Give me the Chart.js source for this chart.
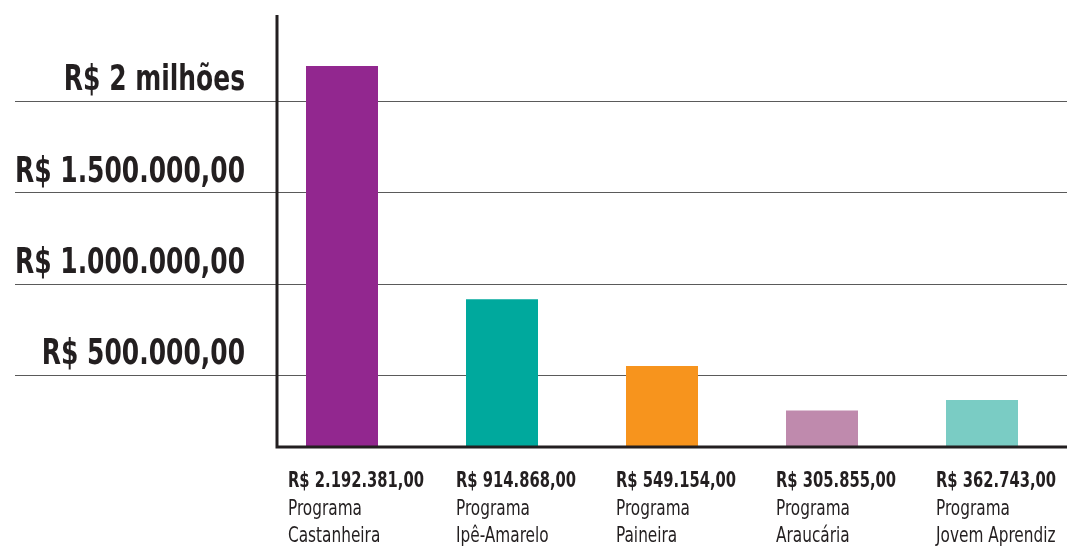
<!DOCTYPE html>
<html>
<head>
<meta charset="utf-8">
<script src="https://cdn.jsdelivr.net/npm/chart.js@4"></script>
<style>
  html, body { margin: 0; padding: 0; background: #fff; }
  canvas { display: block; }
</style>
</head>
<body>
<canvas id="myChart" width="1067" height="546"></canvas>
<script>
// data
const programs = ["Castanheira", "Ipê-Amarelo", "Paineira", "Araucária", "Jovem Aprendiz"];
const amounts = [2192381, 914868, 549154, 305855, 362743];
const amountLabels = ["R$ 2.192.381,00", "R$ 914.868,00", "R$ 549.154,00", "R$ 305.855,00", "R$ 362.743,00"];
const barColours = ["#92278f", "#00a99d", "#f7941d", "#bf8aad", "#7accc4"];
const tickValues = [500000, 1000000, 1500000, 2000000];
const tickLabels = ["R$ 500.000,00", "R$ 1.000.000,00", "R$ 1.500.000,00", "R$ 2 milhões"];

const ink = "#231f20";
const narrow = "'Liberation Sans Narrow', 'DejaVu Sans Condensed', 'Roboto Condensed', 'Noto Sans', sans-serif";

// the original uses a condensed face, so squeeze text horizontally
const squeeze = (ctx, text, x, y, sx) => {
  ctx.save();
  ctx.translate(x, y);
  ctx.scale(sx, 1);
  ctx.fillText(text, 0, 0);
  ctx.restore();
};

const decor = {
  id: "decor",
  beforeDatasetsDraw(chart) {
    const ctx = chart.ctx;
    const y = chart.scales.y;
    ctx.save();
    ctx.strokeStyle = "#5a5a5a";
    ctx.lineWidth = 1;
    tickValues.forEach(v => {
      const py = Math.round(y.getPixelForValue(v)) + 0.5;
      ctx.beginPath();
      ctx.moveTo(15, py);
      ctx.lineTo(chart.width, py);
      ctx.stroke();
    });
    ctx.restore();
  },
  afterDatasetsDraw(chart) {
    const ctx = chart.ctx;
    const y = chart.scales.y;
    const x = chart.scales.x;
    const area = chart.chartArea;
    const axisX = area.left + 15;
    ctx.save();
    ctx.strokeStyle = ink;
    ctx.lineWidth = 3;
    ctx.beginPath();
    ctx.moveTo(axisX, area.top);
    ctx.lineTo(axisX, area.bottom);
    ctx.lineTo(chart.width, area.bottom);
    ctx.stroke();

    // y labels, sitting above their gridline
    ctx.fillStyle = ink;
    ctx.textAlign = "right";
    ctx.textBaseline = "middle";
    ctx.font = "bold 36px " + narrow;
    const sy = 230 / ctx.measureText("R$ 1.500.000,00").width;
    tickValues.forEach((v, i) => {
      const py = y.getPixelForValue(v) - 20;
      squeeze(ctx, tickLabels[i], 245, py, sy);
    });

    // category labels under the bars
    ctx.textAlign = "left";
    ctx.font = "bold 22px " + narrow;
    const sb = 136 / ctx.measureText("R$ 2.192.381,00").width;
    ctx.font = "21px " + narrow;
    const sr = 74 / ctx.measureText("Programa").width;
    programs.forEach((p, i) => {
      const cx = x.getPixelForValue(i) - 54 + (i > 0 ? 8 : 0);
      ctx.font = "bold 22px " + narrow;
      squeeze(ctx, amountLabels[i], cx, area.bottom + 34, sb);
      ctx.font = "21px " + narrow;
      squeeze(ctx, "Programa", cx, area.bottom + 63, sr);
      squeeze(ctx, p, cx, area.bottom + 90, sr);
    });
    ctx.restore();
  }
};

new Chart(document.getElementById("myChart"), {
  type: "bar",
  data: {
    labels: programs,
    datasets: [{
      data: amounts,
      backgroundColor: barColours,
      borderWidth: 0,
      barPercentage: 0.45,
      categoryPercentage: 1
    }]
  },
  options: {
    responsive: false,
    animation: false,
    layout: { padding: { top: 15, bottom: 99, left: 262, right: 5 } },
    plugins: {
      legend: { display: false },
      tooltip: { enabled: false }
    },
    scales: {
      x: { display: false },
      y: { display: false, min: 106000, max: 2471000 }
    }
  },
  plugins: [decor]
});
</script>
</body>
</html>
